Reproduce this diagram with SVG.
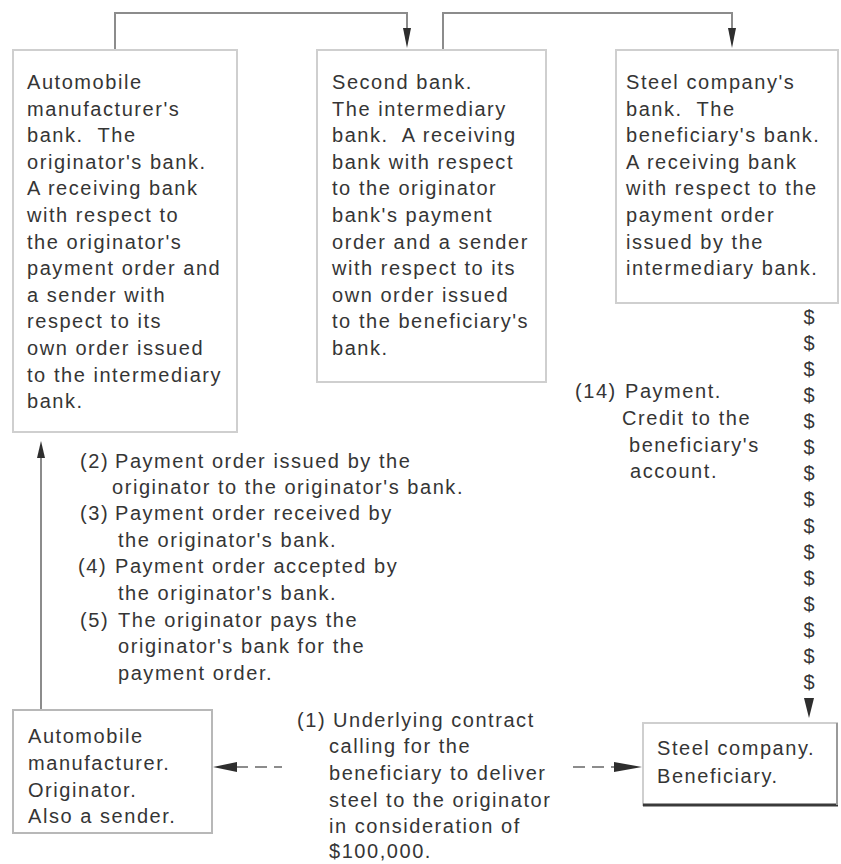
<svg xmlns="http://www.w3.org/2000/svg" width="841" height="864" viewBox="0 0 841 864">
  <style>
    text { font-family: "Liberation Sans", Arial, sans-serif; font-size: 20px; letter-spacing: 1.55px; fill: #353535; }
    .box { fill: #ffffff; stroke: #cfcfcf; stroke-width: 2; }
    .boxd { fill: #ffffff; stroke: #b8b8b8; stroke-width: 2; }
    .wire { fill: none; stroke: #8c8c8c; stroke-width: 2; }
    .dash { fill: none; stroke: #8c8c8c; stroke-width: 2; stroke-dasharray: 12 7; }
    .head { fill: #2e2e2e; }
    .money { text-anchor: middle; letter-spacing: 0; }
  </style>
  <rect width="841" height="864" fill="#ffffff"/>

  <!-- connectors -->
  <g id="connectors">
    <polyline class="wire" points="115,50 115,13 407,13 407,30"/>
    <polygon class="head" points="403,28 411,28 407,48"/>
    <polyline class="wire" points="443,50 443,13 732,13 732,30"/>
    <polygon class="head" points="728,28 736,28 732,48"/>
    <line class="wire" x1="41" y1="456" x2="41" y2="710" stroke="#a8a8a8"/>
    <polygon class="head" points="37,458 45,458 41,441"/>
    <line class="dash" x1="236" y1="767" x2="282" y2="767"/>
    <polygon class="head" points="213,767 237,762 237,772"/>
    <line class="dash" x1="573" y1="767" x2="618" y2="767" stroke-dasharray="3 8 12 8"/>
    <polygon class="head" points="642,767 614,762 614,772"/>
    <g id="payment-flow">
      <text class="money" x="809" y="324">$</text>
      <text class="money" x="809" y="350">$</text>
      <text class="money" x="809" y="376">$</text>
      <text class="money" x="809" y="402">$</text>
      <text class="money" x="809" y="428">$</text>
      <text class="money" x="809" y="454">$</text>
      <text class="money" x="809" y="480">$</text>
      <text class="money" x="809" y="506">$</text>
      <text class="money" x="809" y="533">$</text>
      <text class="money" x="809" y="559">$</text>
      <text class="money" x="809" y="585">$</text>
      <text class="money" x="809" y="611">$</text>
      <text class="money" x="809" y="637">$</text>
      <text class="money" x="809" y="663">$</text>
      <text class="money" x="809" y="689">$</text>
      <polygon class="head" points="804,698 814,698 809,718"/>
    </g>
  </g>

  <!-- originator's bank -->
  <g id="originators-bank">
    <rect class="box" x="13" y="50" width="224" height="382"/>
    <text x="27" y="89">Automobile</text>
    <text x="27" y="116">manufacturer's</text>
    <text x="27" y="142" xml:space="preserve">bank.  The</text>
    <text x="27" y="169">originator's bank.</text>
    <text x="27" y="195">A receiving bank</text>
    <text x="27" y="222">with respect to</text>
    <text x="27" y="249">the originator's</text>
    <text x="27" y="275">payment order and</text>
    <text x="27" y="302">a sender with</text>
    <text x="27" y="328">respect to its</text>
    <text x="27" y="355">own order issued</text>
    <text x="27" y="382">to the intermediary</text>
    <text x="27" y="408">bank.</text>
  </g>

  <!-- intermediary bank -->
  <g id="intermediary-bank">
    <rect class="box" x="317" y="50" width="229" height="332"/>
    <text x="332" y="89">Second bank.</text>
    <text x="332" y="116">The intermediary</text>
    <text x="332" y="142" xml:space="preserve">bank.  A receiving</text>
    <text x="332" y="169">bank with respect</text>
    <text x="332" y="195">to the originator</text>
    <text x="332" y="222">bank's payment</text>
    <text x="332" y="249">order and a sender</text>
    <text x="332" y="275">with respect to its</text>
    <text x="332" y="302">own order issued</text>
    <text x="332" y="328">to the beneficiary's</text>
    <text x="332" y="355">bank.</text>
  </g>

  <!-- beneficiary's bank -->
  <g id="beneficiarys-bank">
    <rect class="box" x="616" y="50" width="222" height="253"/>
    <text x="626" y="89">Steel company's</text>
    <text x="626" y="116" xml:space="preserve">bank.  The</text>
    <text x="626" y="142">beneficiary's bank.</text>
    <text x="626" y="169">A receiving bank</text>
    <text x="626" y="195">with respect to the</text>
    <text x="626" y="222">payment order</text>
    <text x="626" y="249">issued by the</text>
    <text x="626" y="275">intermediary bank.</text>
  </g>

  <!-- originator -->
  <g id="originator">
    <rect class="boxd" x="13" y="710" width="199" height="123"/>
    <text x="28" y="743">Automobile</text>
    <text x="28" y="770">manufacturer.</text>
    <text x="28" y="797">Originator.</text>
    <text x="28" y="823">Also a sender.</text>
  </g>

  <!-- beneficiary -->
  <g id="beneficiary">
    <rect class="box" x="643" y="723" width="194" height="82"/>
    <line x1="643" y1="805" x2="838" y2="805" stroke="#3a3a3a" stroke-width="3"/>
    <line x1="837" y1="723" x2="837" y2="805" stroke="#9a9a9a" stroke-width="2"/>
    <text x="657" y="755">Steel company.</text>
    <text x="657" y="783">Beneficiary.</text>
  </g>

  <!-- step notes -->
  <g id="steps-2-5">
    <text x="80" y="468">(2)</text><text x="115" y="468">Payment order issued by the</text>
    <text x="112" y="494">originator to the originator's bank.</text>
    <text x="80" y="520">(3)</text><text x="115" y="520">Payment order received by</text>
    <text x="118" y="547">the originator's bank.</text>
    <text x="78" y="573">(4)</text><text x="115" y="573">Payment order accepted by</text>
    <text x="118" y="600">the originator's bank.</text>
    <text x="80" y="627">(5)</text><text x="118" y="627">The originator pays the</text>
    <text x="118" y="653">originator's bank for the</text>
    <text x="118" y="680">payment order.</text>
  </g>

  <g id="step-14">
    <text x="575" y="398">(14)</text><text x="625" y="398">Payment.</text>
    <text x="622" y="425">Credit to the</text>
    <text x="629" y="452">beneficiary's</text>
    <text x="630" y="478">account.</text>
  </g>

  <g id="step-1">
    <text x="297" y="727">(1)</text><text x="333" y="727">Underlying contract</text>
    <text x="329" y="753">calling for the</text>
    <text x="329" y="780">beneficiary to deliver</text>
    <text x="329" y="807">steel to the originator</text>
    <text x="329" y="833">in consideration of</text>
    <text x="329" y="858">$100,000.</text>
  </g>
</svg>
